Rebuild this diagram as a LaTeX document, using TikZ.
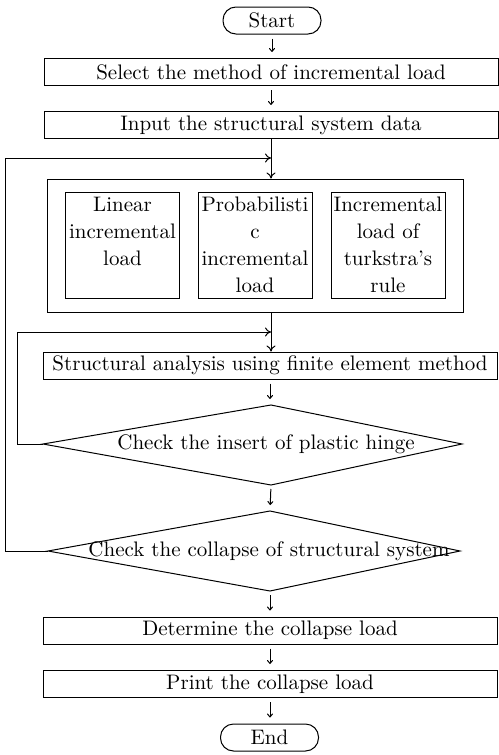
\documentclass[tikz,border=0pt]{standalone}
\usepackage{tikz}
\usetikzlibrary{arrows.meta}

\tikzset{
  box/.style={draw, minimum width=227pt, minimum height=13.5pt, inner sep=0pt},
  term/.style={draw, rounded corners=6.5pt, minimum width=49pt, minimum height=13.5pt, inner sep=0pt},
  sub/.style={draw, minimum width=57pt, minimum height=53pt, inner sep=0pt},
  arr/.style={-{To[length=2pt,width=3pt]}, shorten <=2pt, shorten >=3pt},
  tip/.style={-{To[length=3pt,width=4.5pt]}}
}
\newcommand{\subtext}[1]{\parbox[c][48pt][t]{56pt}{\centering #1}}

\begin{document}
\begin{tikzpicture}[x=0.5pt,y=-0.5pt,font=\fontsize{10.5}{13.5}\selectfont,line width=0.5pt]
\useasboundingbox (0,0) rectangle (498,755);

\node[term] (start) at (272,20.5) {Start};
\node[box] (sel) at (271,72) {Select the method of incremental load};
\node[box] (inp) at (271,125) {Input the structural system data};
\draw[arr] (start) -- (start |- sel.north);
\draw[arr] (sel) -- (sel |- inp.north);

% load cases
\node[draw, minimum width=208pt, minimum height=66.5pt] (grp) at (255,245.5) {};
\node[sub] (lin) at (122.5,245) {\subtext{Linear\\incremental\\load}};
\node[sub] (prob) at (255,245) {\subtext{Probabilisti\\c\\incremental\\load}};
\node[sub] (turk) at (388,245) {\subtext{Incremental\\load of\\turkstra's\\rule}};
\coordinate (j1) at (271,158);
\draw[tip] (inp) -- (inp.south |- grp.north);

\node[box] (fem) at (270,365.5) {Structural analysis using finite element method};
\coordinate (j2) at (271,332);
\draw[tip] (grp.south -| inp.south) -- (inp.south |- fem.north);

% checks
\draw (271,405) coordinate (d1n) -- (462,444) coordinate (d1e) -- (271,485) coordinate (d1s) -- (43,444) coordinate (d1w) -- cycle;
\node (hinge) at (266,444) {Check the insert of plastic hinge};
\draw (270,511) coordinate (d2n) -- (460,551) coordinate (d2e) -- (270,591) coordinate (d2s) -- (48,551) coordinate (d2w) -- cycle;
\node (collapse) at (269,551) {Check the collapse of structural system};
\draw[arr] (fem) -- (fem.south |- d1n);
\draw[arr] (d1s) -- (d2n);

% loops back
\draw[tip] (d1w) -- ++(-26,0) |- (j2);
\draw[tip] (d2w) -- ++(-43,0) |- (j1);

\node[box] (det) at (270,630.5) {Determine the collapse load};
\node[box] (prt) at (270,684) {Print the collapse load};
\node[term] (stop) at (269.5,737.5) {End};
\draw[arr] (d2s) -- (d2s |- det.north);
\draw[arr] (det) -- (det.south |- prt.north);
\draw[arr] (prt) -- (prt.south |- stop.north);

\end{tikzpicture}
\end{document}
